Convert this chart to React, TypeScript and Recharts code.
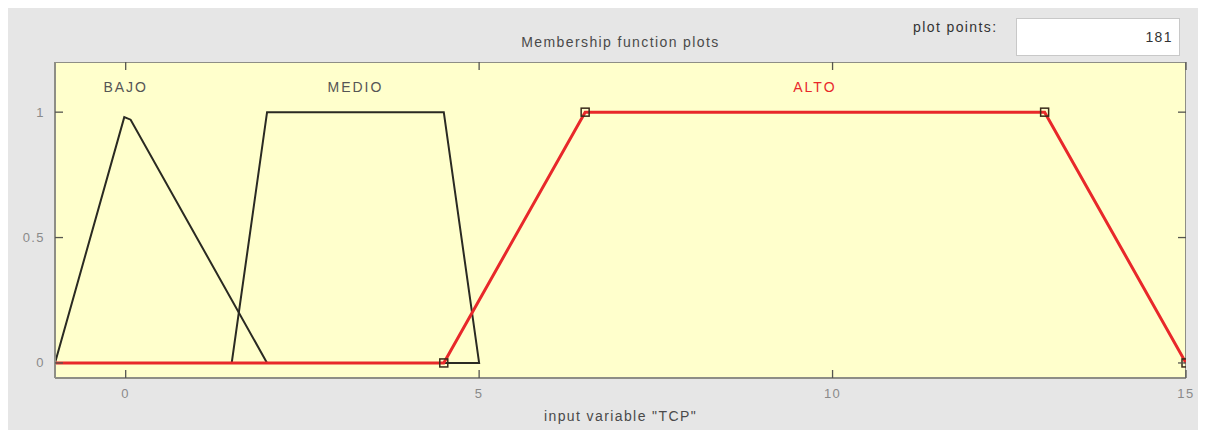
import { Line, LineChart, ReferenceDot, XAxis, YAxis } from "recharts";

// membership functions of input variable "TCP", sampled over [-1, 15]
const bajo = [
  { x: -1, y: 0 },
  { x: -0.02, y: 0.98 },
  { x: 0.07, y: 0.97 },
  { x: 2, y: 0 },
];
const medio = [
  { x: 1.5, y: 0 },
  { x: 2, y: 1 },
  { x: 4.5, y: 1 },
  { x: 5, y: 0 },
  { x: 1.5, y: 0 },
];
const alto = [
  { x: -1, y: 0 },
  { x: 4.5, y: 0 },
  { x: 6.5, y: 1 },
  { x: 13, y: 1 },
  { x: 15, y: 0 },
];

const mfLabels = [
  { name: "BAJO", x: 0, y: 1.1, color: "#555" },
  { name: "MEDIO", x: 3.25, y: 1.1, color: "#555" },
  { name: "ALTO", x: 9.75, y: 1.1, color: "#e8282a" },
];

const xTicks = [0, 5, 10, 15];
const yTicks = [0, 0.5, 1];
const plotPoints = 181;

const FONT = '"Liberation Sans", Arial, sans-serif';
const FRAME = "#8e8e86";
const TICK_COLOR = "#555550";
const TICK_LEN = 8;
const SPACING = 1.4;

const CHART_W = 1190;
const CHART_H = 422;
const MARGIN = { top: 54, right: 12, bottom: 22, left: 7 };
const X_AXIS_H = 30;
const Y_AXIS_W = 40;
const PLOT_TOP = MARGIN.top;
const PLOT_BOTTOM = CHART_H - MARGIN.bottom - X_AXIS_H;
const PLOT_LEFT = MARGIN.left + Y_AXIS_W;
const PLOT_RIGHT = CHART_W - MARGIN.right;

// each tick draws its label outside the frame and a short tick mark pointing inward
const BottomTick = (props: any) => {
  const { x, y, payload } = props;
  return (
    <g>
      <path d={`M${x},${PLOT_BOTTOM}V${PLOT_BOTTOM - TICK_LEN}`} stroke={TICK_COLOR} strokeWidth={1.3} fill="none" />
      <path d={`M${x},${PLOT_TOP}V${PLOT_TOP + TICK_LEN}`} stroke={TICK_COLOR} strokeWidth={1.3} fill="none" />
      <text
        x={x}
        y={y}
        textAnchor="middle"
        dominantBaseline="central"
        fill="#8a8a8a"
        fontSize={13}
        fontFamily={FONT}
        letterSpacing={SPACING}
      >
        {payload.value}
      </text>
    </g>
  );
};

const LeftTick = (props: any) => {
  const { x, y, payload } = props;
  return (
    <g>
      <path d={`M${PLOT_LEFT},${y}H${PLOT_LEFT + TICK_LEN}`} stroke={TICK_COLOR} strokeWidth={1.3} fill="none" />
      <path d={`M${PLOT_RIGHT},${y}H${PLOT_RIGHT - TICK_LEN}`} stroke={TICK_COLOR} strokeWidth={1.3} fill="none" />
      <text
        x={x - 2}
        y={y}
        textAnchor="end"
        dominantBaseline="central"
        fill="#8a8a8a"
        fontSize={13}
        fontFamily={FONT}
        letterSpacing={SPACING}
      >
        {payload.value}
      </text>
    </g>
  );
};

const SquareDot = (props: any) => {
  const { cx, cy, index } = props;
  if (index === 0) return <g key={index} />;
  return <rect key={index} x={cx - 4} y={cy - 4} width={8} height={8} fill="none" stroke="#3a2a1a" strokeWidth={1.5} />;
};

const textStyle = { fontSize: 14, color: "#4a4a4a", letterSpacing: SPACING };

export default function App() {
  return (
    <div style={{ position: "relative", width: CHART_W, height: CHART_H, background: "#e6e6e6", fontFamily: FONT }}>
      <div
        style={{
          position: "absolute",
          left: PLOT_LEFT,
          top: PLOT_TOP,
          width: PLOT_RIGHT - PLOT_LEFT,
          height: PLOT_BOTTOM - PLOT_TOP,
          background: "#ffffcc",
          borderTop: `1.5px solid ${FRAME}`,
          borderRight: `1.5px solid ${FRAME}`,
          boxSizing: "border-box",
        }}
      />
      <div style={{ position: "absolute", left: 0, top: 26, width: 1225, textAlign: "center", ...textStyle }}>
        Membership function plots
      </div>
      <div style={{ position: "absolute", left: 905, top: 11, ...textStyle, color: "#333" }}>plot points:</div>
      <div
        style={{
          position: "absolute",
          left: 1008,
          top: 10,
          width: 164,
          height: 38,
          background: "#fff",
          border: "1px solid #c8c8c8",
          boxSizing: "border-box",
          ...textStyle,
          color: "#333",
          textAlign: "right",
          paddingRight: 6,
          lineHeight: "37px",
        }}
      >
        {plotPoints}
      </div>
      <div style={{ position: "absolute", left: 0, top: 400, width: 1225, textAlign: "center", ...textStyle }}>
        input variable "TCP"
      </div>
      <div style={{ position: "absolute", left: 0, top: 0 }}>
        <LineChart width={CHART_W} height={CHART_H} margin={MARGIN}>
          <XAxis
            type="number"
            dataKey="x"
            domain={[-1, 15]}
            ticks={xTicks}
            allowDataOverflow
            height={X_AXIS_H}
            tickSize={0}
            tickMargin={15}
            tickLine={false}
            axisLine={{ stroke: FRAME, strokeWidth: 2 }}
            tick={<BottomTick />}
          />
          <YAxis
            type="number"
            domain={[-0.06, 1.2]}
            ticks={yTicks}
            allowDataOverflow
            width={Y_AXIS_W}
            tickSize={0}
            tickMargin={8}
            tickLine={false}
            axisLine={{ stroke: FRAME, strokeWidth: 2 }}
            tick={<LeftTick />}
          />
          <Line data={bajo} dataKey="y" type="linear" stroke="#2a2a22" strokeWidth={2} dot={false} isAnimationActive={false} />
          <Line data={medio} dataKey="y" type="linear" stroke="#2a2a22" strokeWidth={2} dot={false} isAnimationActive={false} />
          <Line data={alto} dataKey="y" type="linear" stroke="#e8282a" strokeWidth={3} dot={<SquareDot />} isAnimationActive={false} />
          {mfLabels.map((m) => (
            <ReferenceDot
              key={m.name}
              x={m.x}
              y={m.y}
              r={0}
              stroke="none"
              label={{
                value: m.name,
                position: "center",
                fill: m.color,
                fontSize: 14,
                fontFamily: FONT,
                letterSpacing: 2,
              }}
            />
          ))}
        </LineChart>
      </div>
    </div>
  );
}
